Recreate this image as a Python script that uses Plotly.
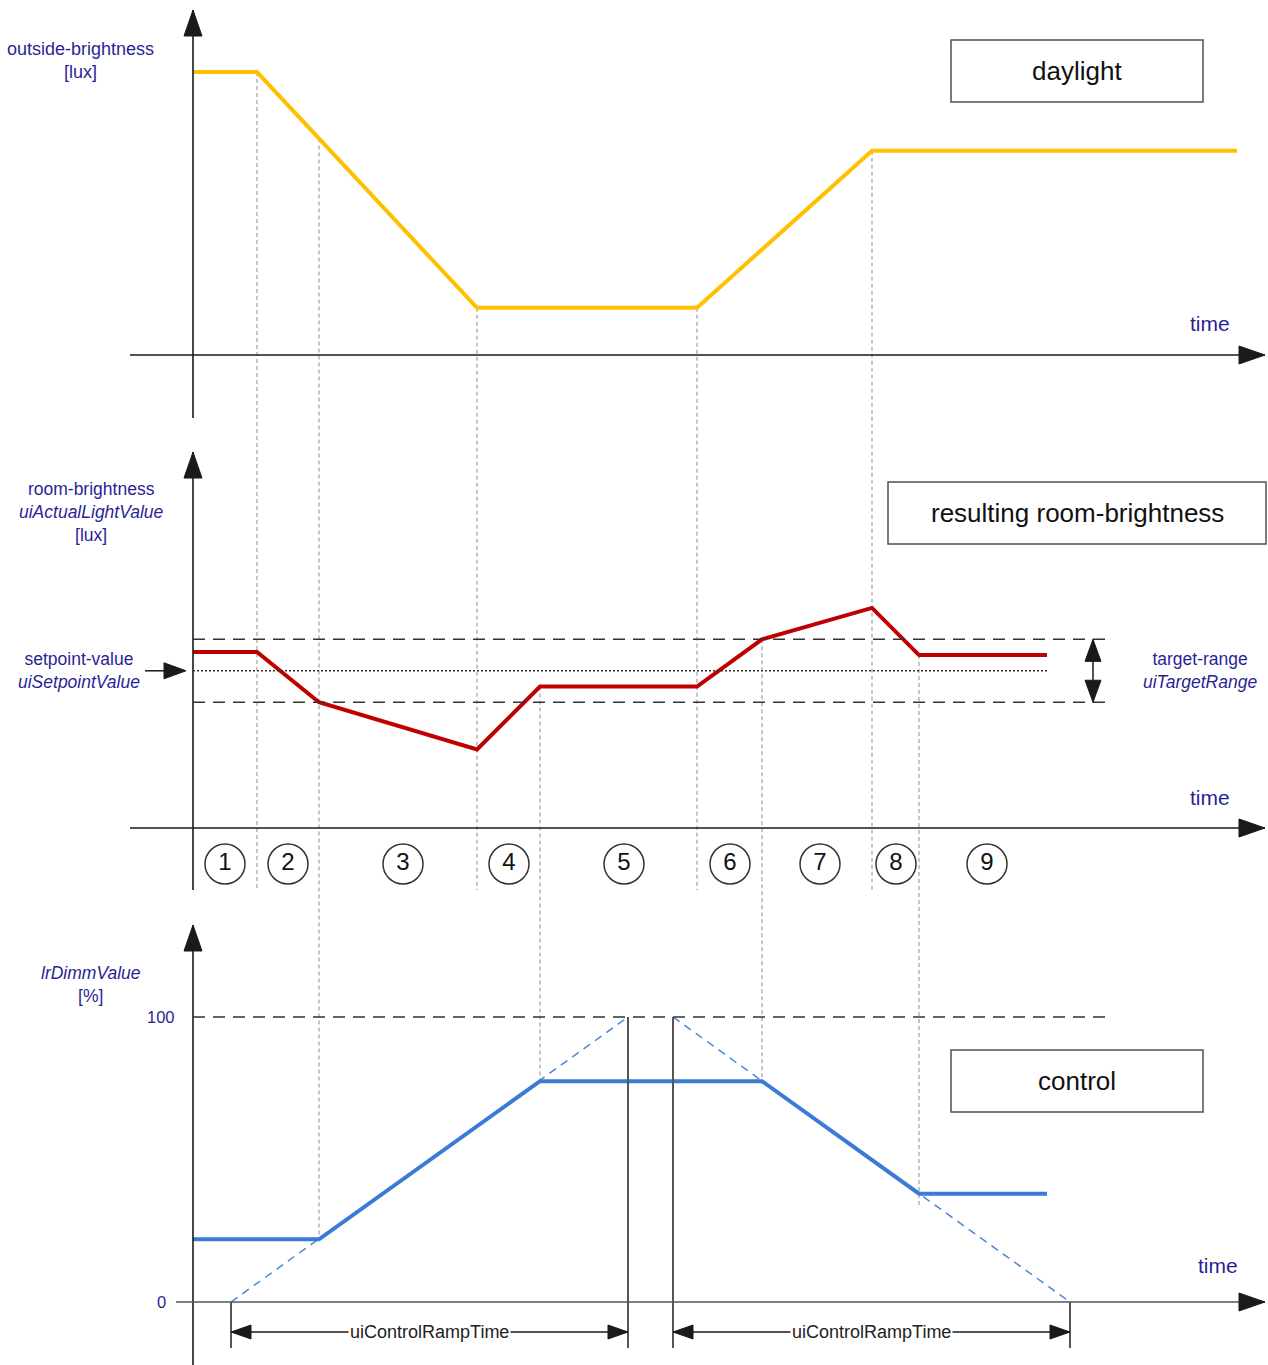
import numpy as np
import plotly.graph_objects as go

# ---------------------------------------------------------------- data
# phase boundaries on the time axis
t_phase = [0, 6.4, 12.6, 28.4, 34.7, 50.4, 56.9, 67.9, 72.6, 85.4]
phase_labels = ["1", "2", "3", "4", "5", "6", "7", "8", "9"]
phase_label_t = [3.2, 9.5, 21.0, 31.6, 43.1, 53.7, 62.7, 70.3, 79.4]

# outside brightness (daylight)
t_daylight = [0, 6.4, 28.4, 50.4, 67.9, 104.4]
daylight_lux = [900, 900, 150, 150, 650, 650]

# resulting room brightness
t_room = [0, 6.4, 12.6, 28.4, 34.7, 50.4, 56.9, 67.9, 72.6, 85.4]
room_lux = [560, 560, 400, 250, 450, 450, 600, 700, 550, 550]
setpoint_lux = 500
target_range_lux = 200

# dimming output
t_dimm = [0, 12.6, 34.7, 56.9, 72.6, 85.4]
dimm_pct = [22, 22, 77.5, 77.5, 38, 38]

# ramp definition (0 -> 100 % within uiControlRampTime)
ramp_up_t = [3.8, 43.5]
ramp_down_t = [48.0, 87.7]
ramp_up_pct = [0, 100]
ramp_down_pct = [100, 0]

# ---------------------------------------------------------------- geometry
W, H = 1268, 1365
T0_PX, PX_PER_T = 193, 10.0
PANEL_BASE = {1: 355, 2: 828, 3: 1302}       # pixel row of each value axis zero
PANEL_SCALE = {1: 0.3144, 2: 0.3144, 3: 2.85}  # pixels per unit
YREF = {1: "y", 2: "y2", 3: "y3"}

TEXT_BLUE = "#2a1f96"
FONT = "Liberation Sans, Arial, sans-serif"
AXIS_COL = "#1a1a1a"


def yrange(p):
    b, s = PANEL_BASE[p], PANEL_SCALE[p]
    return [(b - H) / s, b / s]


def paper_y(p, v):
    return 1 - (PANEL_BASE[p] - v * PANEL_SCALE[p]) / H


def px_val(p, row):
    return (PANEL_BASE[p] - row) / PANEL_SCALE[p]


def t_of(px):
    return (px - T0_PX) / PX_PER_T


fig = go.Figure()
shapes = []
annotations = []


def line(x0, y0, x1, y1, yref, color, width, dash="solid", layer="above"):
    shapes.append(dict(type="line", xref="x", yref=yref, x0=x0, y0=y0, x1=x1, y1=y1,
                       line=dict(color=color, width=width, dash=dash), layer=layer))


def arrowhead(x, y, yref, direction, length, half, color=AXIS_COL):
    paths = {
        "up": f"M0,0 L{-half},{-length} L{half},{-length} Z",
        "down": f"M0,0 L{-half},{length} L{half},{length} Z",
        "right": f"M0,0 L{-length},{half} L{-length},{-half} Z",
        "left": f"M0,0 L{length},{half} L{length},{-half} Z",
    }
    shapes.append(dict(type="path", xref="x", yref=yref, xsizemode="pixel", ysizemode="pixel",
                       xanchor=x, yanchor=y, path=paths[direction],
                       fillcolor=color, line=dict(color=color, width=1)))


def text(x, y, yref, s, size, color=TEXT_BLUE, xanchor="center", bg=None):
    a = dict(x=x, y=y, xref="x", yref=yref, text=s, showarrow=False, xanchor=xanchor,
             yanchor="middle", font=dict(family=FONT, size=size, color=color), align="center")
    if bg:
        a["bgcolor"] = bg
    annotations.append(a)


def box(x0, x1, y0, y1, yref, label):
    shapes.append(dict(type="rect", xref="x", yref=yref, x0=x0, x1=x1, y0=y0, y1=y1,
                       line=dict(color="#505050", width=1.5), fillcolor="white"))
    text((x0 + x1) / 2, (y0 + y1) / 2, yref, label, 26, color="#111111")


# ---------------------------------------------------------------- axes
axis_tops = {1: 10, 2: 452, 3: 925}
axis_bottoms = {1: 418, 2: 890, 3: H}
axis_left = {1: 130, 2: 130, 3: 176}
for p in (1, 2, 3):
    yr = YREF[p]
    top = px_val(p, axis_tops[p])
    line(0, px_val(p, axis_bottoms[p]), 0, top, yr, AXIS_COL, 1.6)
    arrowhead(0, top, yr, "up", 26, 9)
    x_end = t_of(1265)
    line(t_of(axis_left[p]), 0, x_end, 0, yr, AXIS_COL if p < 3 else "#555555", 1.6)
    arrowhead(x_end, 0, yr, "right", 26, 9)

# ---------------------------------------------------------------- guide lines between panels
y_day_126 = float(np.interp(12.6, t_daylight, daylight_lux))
guides = [
    (6.4, (1, 900), (2, px_val(2, 890))),
    (12.6, (1, y_day_126), (3, 22)),
    (28.4, (1, 150), (2, px_val(2, 890))),
    (34.7, (2, 450), (3, 77.5)),
    (50.4, (1, 150), (2, px_val(2, 890))),
    (56.9, (2, 600), (3, 77.5)),
    (67.9, (1, 650), (2, px_val(2, 890))),
    (72.6, (2, 550), (3, 34)),
]
for t, (pa, va), (pb, vb) in guides:
    line(t, paper_y(pa, va), t, paper_y(pb, vb), "paper", "#a0a0a0", 1.2, "4px,3px", layer="below")

# ---------------------------------------------------------------- panel 1: daylight
fig.add_trace(go.Scatter(x=t_daylight, y=daylight_lux, mode="lines", yaxis="y",
                         line=dict(color="#FFC000", width=4), hoverinfo="skip"))
text(t_of(80), px_val(1, 60), "y", "outside-brightness<br>[lux]", 18)
text(t_of(1210), px_val(1, 323), "y", "time", 21)
box(t_of(951), t_of(1203), px_val(1, 102), px_val(1, 40), "y", "daylight")

# ---------------------------------------------------------------- panel 2: room brightness
lo, hi = setpoint_lux - target_range_lux / 2, setpoint_lux + target_range_lux / 2
for v in (lo, hi):
    line(0, v, t_of(1110), v, "y2", "#333333", 1.5, "12px,8px")
line(0, setpoint_lux, t_room[-1], setpoint_lux, "y2", "#333333", 1.5, "2px,2px")

fig.add_trace(go.Scatter(x=t_room, y=room_lux, mode="lines", yaxis="y2",
                         line=dict(color="#C00000", width=4), hoverinfo="skip"))

# setpoint arrow
line(t_of(145), setpoint_lux, t_of(175), setpoint_lux, "y2", AXIS_COL, 1.5)
arrowhead(t_of(186), setpoint_lux, "y2", "right", 22, 8)
# target range double arrow
tr_x = t_of(1093)
line(tr_x, lo, tr_x, hi, "y2", AXIS_COL, 1.5)
arrowhead(tr_x, hi, "y2", "up", 22, 8)
arrowhead(tr_x, lo, "y2", "down", 22, 8)

text(t_of(91), px_val(2, 512), "y2",
     "room-brightness<br><i>uiActualLightValue</i><br>[lux]", 17.5)
text(t_of(79), px_val(2, 670), "y2", "setpoint-value<br><i>uiSetpointValue</i>", 17.5)
text(t_of(1200), px_val(2, 670), "y2", "target-range<br><i>uiTargetRange</i>", 17.5)
text(t_of(1210), px_val(2, 797), "y2", "time", 21)
box(t_of(888), t_of(1266), px_val(2, 544), px_val(2, 482), "y2", "resulting room-brightness")

# phase markers
fig.add_trace(go.Scatter(x=phase_label_t, y=[px_val(2, 864)] * len(phase_label_t), yaxis="y2",
                         mode="markers+text", text=phase_labels, textposition="middle center",
                         textfont=dict(family=FONT, size=24, color="#111111"),
                         marker=dict(symbol="circle", size=40, color="white",
                                     line=dict(color="#333333", width=1.5)),
                         hoverinfo="skip"))

# ---------------------------------------------------------------- panel 3: dimming value
line(0, 100, t_of(1110), 100, "y3", "#333333", 1.5, "12px,8px")
fig.add_trace(go.Scatter(x=ramp_up_t, y=ramp_up_pct, mode="lines", yaxis="y3",
                         line=dict(color="#4a86d8", width=1.5, dash="8px,6px"), hoverinfo="skip"))
fig.add_trace(go.Scatter(x=ramp_down_t, y=ramp_down_pct, mode="lines", yaxis="y3",
                         line=dict(color="#4a86d8", width=1.5, dash="8px,6px"), hoverinfo="skip"))
fig.add_trace(go.Scatter(x=t_dimm, y=dimm_pct, mode="lines", yaxis="y3",
                         line=dict(color="#3a7bd5", width=4), hoverinfo="skip"))

bottom3 = px_val(3, 1348)
arrow_row = px_val(3, 1332)
for ts in (ramp_up_t, ramp_down_t):
    for t in ts:
        top = 100 if (t == ramp_up_t[1] or t == ramp_down_t[0]) else 0
        line(t, top, t, bottom3, "y3", "#555555", 2)
    line(ts[0], arrow_row, ts[1], arrow_row, "y3", AXIS_COL, 1.3)
    arrowhead(ts[0], arrow_row, "y3", "left", 20, 7)
    arrowhead(ts[1], arrow_row, "y3", "right", 20, 7)
    text((ts[0] + ts[1]) / 2, arrow_row, "y3", "uiControlRampTime", 18, color="#222222", bg="white")

text(t_of(91), px_val(3, 984), "y3", "<i>lrDimmValue</i><br>[%]", 17.5)
text(t_of(177), 100, "y3", "100", 16.5, xanchor="right")
text(t_of(161), 0, "y3", "0", 16.5)
text(t_of(1218), px_val(3, 1265), "y3", "time", 21)
box(t_of(951), t_of(1203), px_val(3, 1112), px_val(3, 1050), "y3", "control")

# ---------------------------------------------------------------- layout
hidden = dict(visible=False, fixedrange=True)
fig.update_layout(
    width=W, height=H, autosize=False,
    margin=dict(l=0, r=0, t=0, b=0, pad=0),
    paper_bgcolor="white", plot_bgcolor="white",
    showlegend=False,
    xaxis=dict(range=[t_of(0), t_of(W)], domain=[0, 1], **hidden),
    yaxis=dict(range=yrange(1), domain=[0, 1], **hidden),
    yaxis2=dict(range=yrange(2), domain=[0, 1], overlaying="y", **hidden),
    yaxis3=dict(range=yrange(3), domain=[0, 1], overlaying="y", **hidden),
    shapes=shapes,
    annotations=annotations,
)

fig.write_html("out.html", config={"displayModeBar": False})
